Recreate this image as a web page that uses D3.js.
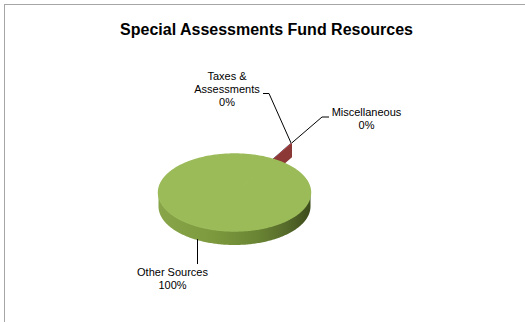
<!DOCTYPE html>
<html>
<head>
<meta charset="utf-8">
<script src="https://cdn.jsdelivr.net/npm/d3@7/dist/d3.min.js"></script>
<style>
  html, body { margin: 0; padding: 0; background: #fff; }
  svg { display: block; }
  text { font-family: Arial, "Liberation Sans", sans-serif; fill: #000; }
</style>
</head>
<body>
<script>
// Fund resources by source (percent of total)
const categories = ["Taxes & Assessments", "Miscellaneous", "Other Sources"];
const values = [0.03, 0.17, 99.8];
const labelLines = [["Taxes &", "Assessments"], ["Miscellaneous"], ["Other Sources"]];
const topColors = ["#4f81bd", "#c0504d", "#9bbb59"];
const sideColors = ["#385d8a", "#8c3836", "#6f8a36"];
const title = "Special Assessments Fund Resources";

const W = 525, H = 322;
const svg = d3.select("body").append("svg").attr("width", W).attr("height", H);

// chart area frame
svg.append("rect")
  .attr("x", 4.5).attr("y", 4.5)
  .attr("width", W + 10).attr("height", H + 10)
  .attr("fill", "#fff").attr("stroke", "#a6a6a6").attr("stroke-width", 1);

svg.append("text")
  .attr("x", 266.5).attr("y", 35)
  .attr("text-anchor", "middle")
  .attr("font-size", 16).attr("font-weight", "bold")
  .text(title);

// 3-D pie geometry
const cx = 234.5, cy = 192.5, rx = 76, ry = 38.5, depth = 14;
const tilt = ry / rx;
const firstSliceAngle = 29.95 * Math.PI / 180;   // rotation of the first slice
const explode = [37, 37, 0];

const pie = d3.pie().sort(null)
  .startAngle(firstSliceAngle)
  .endAngle(firstSliceAngle + 2 * Math.PI);
const arcs = pie(values);
const radius = d3.scaleLinear().domain([0, 1]).range([0, rx]);

// project a point on the disc (r in 0..1, angle clockwise from 12 o'clock)
function proj(r, a, dz, off) {
  return [cx + off[0] + radius(r) * Math.sin(a),
          cy + off[1] - radius(r) * tilt * Math.cos(a) + dz];
}
function offsetOf(i) {
  const m = (arcs[i].startAngle + arcs[i].endAngle) / 2;
  return [explode[i] * Math.sin(m), -explode[i] * tilt * Math.cos(m)];
}
function arcPoints(a0, a1, r, dz, off) {
  const n = Math.max(2, Math.ceil(Math.abs(a1 - a0) / (Math.PI / 180)) + 1);
  return d3.range(n).map(k => proj(r, a0 + (a1 - a0) * k / (n - 1), dz, off));
}
const line = d3.line();

function topFace(i) {
  const d = arcs[i], off = offsetOf(i);
  return line([proj(0, 0, 0, off), ...arcPoints(d.startAngle, d.endAngle, 1, 0, off)]) + "Z";
}
function radialWall(i, a) {
  const off = offsetOf(i);
  return line([proj(0, a, 0, off), proj(1, a, 0, off), proj(1, a, depth, off), proj(0, a, depth, off)]) + "Z";
}
// outer rim wall, limited to the front half of the disc
function outerWall(i) {
  const d = arcs[i], off = offsetOf(i);
  const pieces = [];
  for (const [f0, f1] of [[Math.PI / 2, 1.5 * Math.PI], [2.5 * Math.PI, 3.5 * Math.PI]]) {
    const a0 = Math.max(d.startAngle, f0), a1 = Math.min(d.endAngle, f1);
    if (a1 > a0) {
      const top = arcPoints(a0, a1, 1, 0, off);
      const bottom = arcPoints(a0, a1, 1, depth, off).reverse();
      pieces.push(line([...top, ...bottom]) + "Z");
    }
  }
  return pieces.join("");
}

const defs = svg.append("defs");
const grad = defs.append("linearGradient").attr("id", "rimShade")
  .attr("gradientUnits", "userSpaceOnUse")
  .attr("x1", cx - rx).attr("x2", cx + rx).attr("y1", 0).attr("y2", 0);
[[0, "#88a549"], [0.35, "#7d9a3e"], [0.65, "#6a8534"], [0.85, "#55692a"], [1, "#3c4b1b"]]
  .forEach(([o, c]) => grad.append("stop").attr("offset", o).attr("stop-color", c));

const g = svg.append("g");

// the small exploded slices sit behind the large one
[0, 1].forEach(i => {
  const d = arcs[i];
  g.append("path").attr("d", radialWall(i, d.startAngle)).attr("fill", sideColors[i]);
  g.append("path").attr("d", outerWall(i)).attr("fill", sideColors[i]);
  g.append("path").attr("d", radialWall(i, d.endAngle)).attr("fill", sideColors[i]);
  g.append("path").attr("d", topFace(i)).attr("fill", topColors[i]);
});

// large slice: rim first, then its top face
g.append("path").attr("d", outerWall(2)).attr("fill", "url(#rimShade)");
g.append("path").attr("d", topFace(2)).attr("fill", topColors[2])
  .attr("stroke", topColors[2]).attr("stroke-width", 1.4).attr("stroke-linejoin", "round");

// data labels with leader lines
const pct = d3.format(".0%");
const total = d3.sum(values);
const labelLayout = [
  { x: 227, y: 80, anchor: [263, 93.5], elbow: [269, 93.5] },
  { x: 366.5, y: 115.5, anchor: [329, 117], elbow: [322, 117] },
  { x: 172.5, y: 276, anchor: [197.5, 264], elbow: [197.5, 264] }
];
const lineGap = 13;

categories.forEach((c, i) => {
  const L = labelLayout[i];
  const lines = [...labelLines[i], pct(values[i] / total)];
  const t = svg.append("text").attr("text-anchor", "middle").attr("font-size", 11);
  lines.forEach((s, k) => t.append("tspan").attr("x", L.x).attr("y", L.y + k * lineGap).text(s));

  // leader ends at the outer top edge of the slice (or the front rim for the large one)
  const d = arcs[i];
  let end;
  if (i === 2) {
    end = [L.anchor[0], cy + depth + ry * Math.sqrt(1 - Math.pow((L.anchor[0] - cx) / rx, 2)) - 1];
  } else {
    end = proj(1, (d.startAngle + d.endAngle) / 2, 0, offsetOf(i));
  }
  svg.append("path")
    .attr("d", line([L.anchor, L.elbow, end]))
    .attr("fill", "none").attr("stroke", "#000").attr("stroke-width", 1);
});
</script>
</body>
</html>
